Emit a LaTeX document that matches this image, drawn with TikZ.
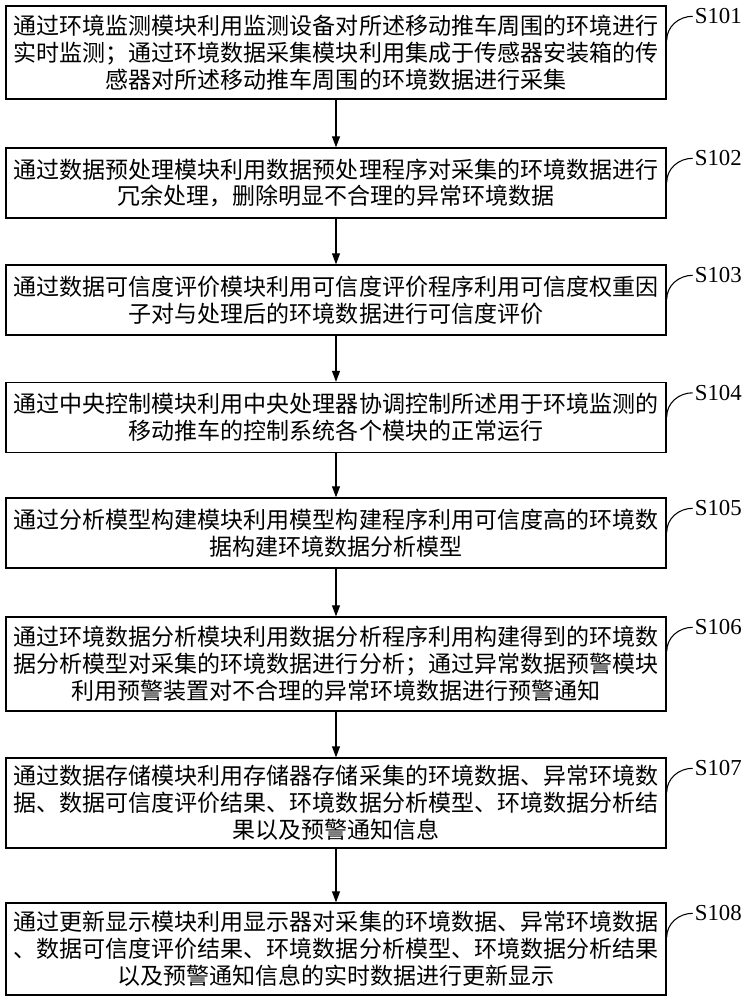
\documentclass[tikz,border=0pt]{standalone}
\usepackage{fontspec}
\setmainfont{Liberation Serif}
\newfontfamily\cjkfont{Noto Sans CJK SC}
\usetikzlibrary{arrows.meta}

\begin{document}
\begin{tikzpicture}[
  stepbox/.style={draw, line width=0.8pt, minimum width=13.2cm, align=center, inner sep=0pt, font=\cjkfont\fontsize{13.1pt}{15.3pt}\selectfont},
  arrow/.style={-{Triangle[length=0.22cm, width=0.16cm]}, line width=0.6pt},
  lab/.style={anchor=west, inner sep=1pt, font=\fontsize{13pt}{14pt}\selectfont},
  leader/.style={line width=0.6pt}
]
  \useasboundingbox (0,0) rectangle (14.92,-20);

  \node[stepbox, minimum height=1.86cm] (s1) at (6.72,-1.05) {通过环境监测模块利用监测设备对所述移动推车周围的环境进行\\实时监测；通过环境数据采集模块利用集成于传感器安装箱的传\\感器对所述移动推车周围的环境数据进行采集};
  \node[stepbox, minimum height=1.40cm] (s2) at (6.72,-3.66) {通过数据预处理模块利用数据预处理程序对采集的环境数据进行\\冗余处理，删除明显不合理的异常环境数据};
  \node[stepbox, minimum height=1.40cm] (s3) at (6.72,-6.00) {通过数据可信度评价模块利用可信度评价程序利用可信度权重因\\子对与处理后的环境数据进行可信度评价};
  \node[stepbox, minimum height=1.40cm] (s4) at (6.72,-8.35) {通过中央控制模块利用中央处理器协调控制所述用于环境监测的\\移动推车的控制系统各个模块的正常运行};
  \node[stepbox, minimum height=1.40cm] (s5) at (6.72,-10.66) {通过分析模型构建模块利用模型构建程序利用可信度高的环境数\\据构建环境数据分析模型};
  \node[stepbox, minimum height=1.88cm] (s6) at (6.72,-13.28) {通过环境数据分析模块利用数据分析程序利用构建得到的环境数\\据分析模型对采集的环境数据进行分析；通过异常数据预警模块\\利用预警装置对不合理的异常环境数据进行预警通知};
  \node[stepbox, minimum height=1.80cm] (s7) at (6.72,-16.06) {通过数据存储模块利用存储器存储采集的环境数据、异常环境数\\据、数据可信度评价结果、环境数据分析模型、环境数据分析结\\果以及预警通知信息};
  \node[stepbox, minimum height=1.84cm] (s8) at (6.72,-18.98) {通过更新显示模块利用显示器对采集的环境数据、异常环境数据\\、数据可信度评价结果、环境数据分析模型、环境数据分析结果\\以及预警通知信息的实时数据进行更新显示};

  \draw[arrow] (s1) -- (s2);
  \draw[arrow] (s2) -- (s3);
  \draw[arrow] (s3) -- (s4);
  \draw[arrow] (s4) -- (s5);
  \draw[arrow] (s5) -- (s6);
  \draw[arrow] (s6) -- (s7);
  \draw[arrow] (s7) -- (s8);

  % step labels with curved leaders
  \node[lab] (l1) at ([xshift=0.52cm, yshift=-0.22cm]s1.north east) {S101};
  \node[lab] (l2) at ([xshift=0.52cm, yshift=-0.22cm]s2.north east) {S102};
  \node[lab] (l3) at ([xshift=0.52cm, yshift=-0.22cm]s3.north east) {S103};
  \node[lab] (l4) at ([xshift=0.52cm, yshift=-0.22cm]s4.north east) {S104};
  \node[lab] (l5) at ([xshift=0.52cm, yshift=-0.22cm]s5.north east) {S105};
  \node[lab] (l6) at ([xshift=0.52cm, yshift=-0.22cm]s6.north east) {S106};
  \node[lab] (l7) at ([xshift=0.52cm, yshift=-0.22cm]s7.north east) {S107};
  \node[lab] (l8) at ([xshift=0.52cm, yshift=-0.22cm]s8.north east) {S108};
  \draw[leader] (l1.west) to[out=180, in=90] ([yshift=-0.70cm]s1.north east);
  \draw[leader] (l2.west) to[out=180, in=90] ([yshift=-0.70cm]s2.north east);
  \draw[leader] (l3.west) to[out=180, in=90] ([yshift=-0.70cm]s3.north east);
  \draw[leader] (l4.west) to[out=180, in=90] ([yshift=-0.70cm]s4.north east);
  \draw[leader] (l5.west) to[out=180, in=90] ([yshift=-0.70cm]s5.north east);
  \draw[leader] (l6.west) to[out=180, in=90] ([yshift=-0.70cm]s6.north east);
  \draw[leader] (l7.west) to[out=180, in=90] ([yshift=-0.70cm]s7.north east);
  \draw[leader] (l8.west) to[out=180, in=90] ([yshift=-0.70cm]s8.north east);
\end{tikzpicture}
\end{document}
